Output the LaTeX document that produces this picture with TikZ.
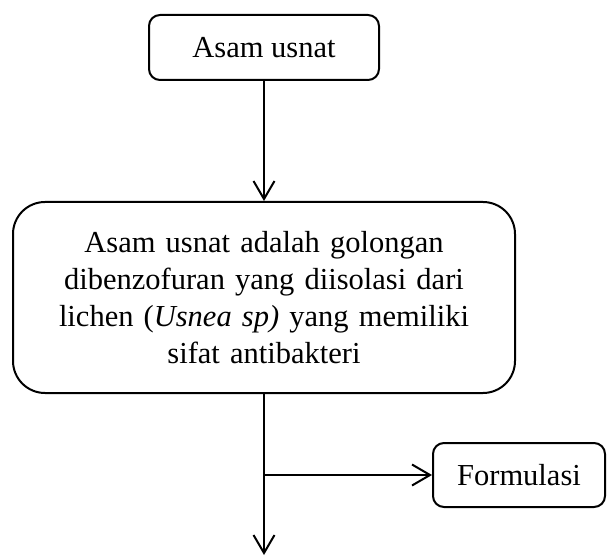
\documentclass[tikz,border=0pt]{standalone}
\usepackage{fontspec}
\setmainfont{Liberation Serif}
\usetikzlibrary{arrows.meta}
\tikzset{
  box/.style={draw, line width=2pt, align=center, inner sep=0pt,
    font=\fontsize{30.5}{37}\selectfont},
  conn/.style={line width=2pt, -{Straight Barb[length=18pt,width=21pt,line width=2pt]}},
  plain/.style={line width=2pt}
}
\begin{document}
\begin{tikzpicture}[x=1pt,y=-1pt]
\useasboundingbox (0,0) rectangle (611,556);
\node[box, rounded corners=11pt, minimum width=230pt, minimum height=65pt] (top) at (264,47.5) {Asam usnat};
\node[box, rounded corners=32pt, minimum width=502pt, minimum height=191pt, text width=480pt] (main) at (264,297.5)
  {Asam usnat adalah golongan\\dibenzofuran yang diisolasi dari\\lichen (\textit{Usnea sp)} yang memiliki\\sifat antibakteri};
\node[box, rounded corners=11pt, minimum width=172pt, minimum height=64pt] (form) at (519,475) {Formulasi};
\coordinate (br) at (264,475);
\coordinate (end) at (264,555);
\draw[conn] (top) -- (main);
\draw[plain] (main) -- (br);
\draw[conn] (br) -- (form);
\draw[conn] (br) -- (end);
\end{tikzpicture}
\end{document}
